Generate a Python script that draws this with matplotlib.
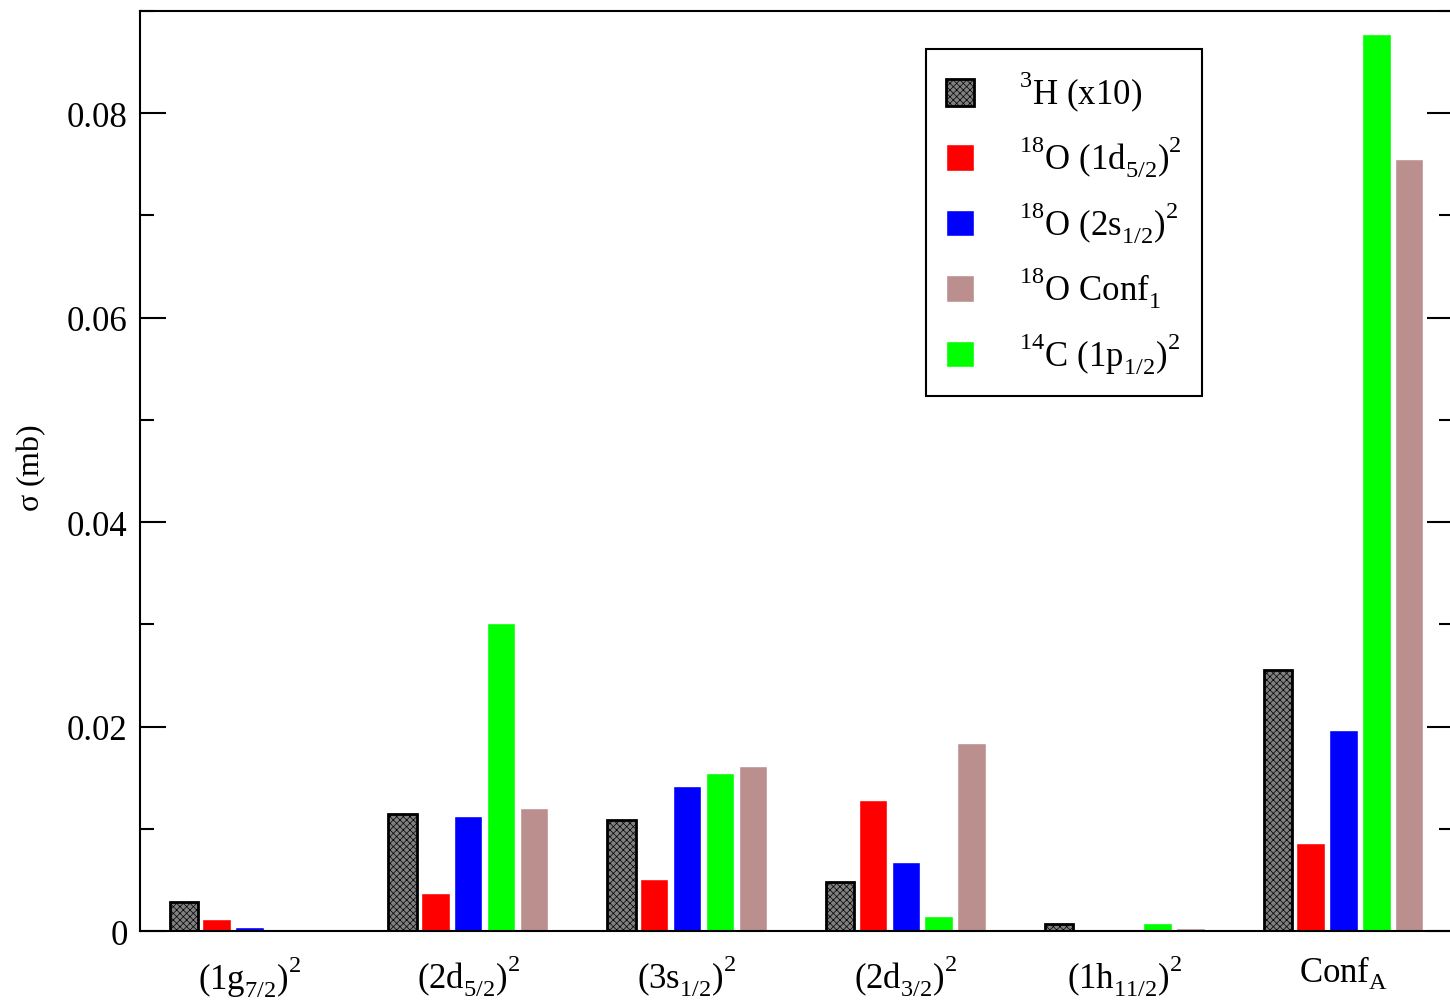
import numpy as np
import matplotlib
matplotlib.use('Agg')
import matplotlib.pyplot as plt
from matplotlib import _mathtext
from matplotlib.ticker import MultipleLocator

plt.rcParams['font.family'] = 'Liberation Serif'
plt.rcParams['mathtext.fontset'] = 'custom'
plt.rcParams['mathtext.rm'] = 'Liberation Serif'
plt.rcParams['mathtext.it'] = 'Liberation Serif'
plt.rcParams['hatch.linewidth'] = 0.5

# grace-like scripts: superscripts higher, subscripts lower
_mathtext.FontConstantsBase.sup1 = 1.0
_mathtext.FontConstantsBase.sub1 = 0.45
_mathtext.FontConstantsBase.sub2 = 0.6

# configurations on the x axis
configs = [r'$\mathregular{(1g_{7/2})^2}$', r'$\mathregular{(2d_{5/2})^2}$',
           r'$\mathregular{(3s_{1/2})^2}$', r'$\mathregular{(2d_{3/2})^2}$',
           r'$\mathregular{(1h_{11/2})^2}$', r'$\mathregular{Conf_A}$']

# cross sections (mb), 3H already multiplied by 10
h3_x10 = [0.0028, 0.0114, 0.0109, 0.0048, 0.0007, 0.0255]
o18_d52 = [0.0012, 0.0037, 0.0051, 0.0128, 0.0, 0.0086]
o18_s12 = [0.0004, 0.0113, 0.0142, 0.0068, 0.0, 0.0197]
c14_p12 = [0.0, 0.0301, 0.01545, 0.0015, 0.0008, 0.0878]
o18_conf1 = [0.0, 0.0120, 0.0161, 0.0184, 0.0003, 0.0755]

yticks = [0, 0.02, 0.04, 0.06, 0.08]
ytick_labels = ['0', '0.02', '0.04', '0.06', '0.08']

x = np.arange(len(configs))
w = 0.13
step = 0.15

fig = plt.figure(figsize=(14.5, 10.04), dpi=100)
ax = fig.add_axes([0.0966, 0.0717, 0.9054, 0.9163])

b1 = ax.bar(x - 2 * step, h3_x10, w, facecolor='#808080', edgecolor='black',
            linewidth=2, hatch='xxxxx', label=r'$\mathregular{^{3}H\ (x10)}$')
b2 = ax.bar(x - step, o18_d52, w, color='#ff0000', edgecolor='white', linewidth=1,
            label=r'$\mathregular{^{18}O\ (1d_{5/2})^2}$')
b3 = ax.bar(x, o18_s12, w, color='#0000ff', edgecolor='white', linewidth=1,
            label=r'$\mathregular{^{18}O\ (2s_{1/2})^2}$')
b5 = ax.bar(x + step, c14_p12, w, color='#00ff00', edgecolor='white', linewidth=1,
            label=r'$\mathregular{^{14}C\ (1p_{1/2})^2}$')
b4 = ax.bar(x + 2 * step, o18_conf1, w, color='#bc8f8f', edgecolor='white', linewidth=1,
            label=r'$\mathregular{^{18}O\ Conf_1}$')

ax.set_xlim(-0.5, 5.5)
ax.set_ylim(0, 0.09)
ax.set_xticks(x)
ax.set_xticklabels(configs)
ax.set_yticks(yticks, ytick_labels)
ax.yaxis.set_minor_locator(MultipleLocator(0.01))
ax.tick_params(axis='y', which='both', direction='in', left=True, right=True,
               labelsize=25, pad=9, width=1.5)
ax.tick_params(axis='y', which='major', length=19)
ax.tick_params(axis='y', which='minor', length=10)
ax.tick_params(axis='x', length=0, labelsize=25, pad=16)
for s in ax.spines.values():
    s.set_linewidth(1.5)

ax.set_ylabel(r'$\mathregular{\sigma}$ (mb)', fontsize=23)
ax.yaxis.set_label_coords(-0.07, 0.504)

leg = ax.legend(handles=[b1, b2, b3, b4, b5], loc='upper right',
                bbox_to_anchor=(0.809, 0.959), borderaxespad=0, fontsize=25,
                handlelength=0.8, handleheight=0.8, handletextpad=1.3,
                labelspacing=0.58, borderpad=0.58, fancybox=False, framealpha=1)
leg.get_frame().set_edgecolor('black')
leg.get_frame().set_linewidth(1.5)

fig.savefig('out.png', dpi=100)
